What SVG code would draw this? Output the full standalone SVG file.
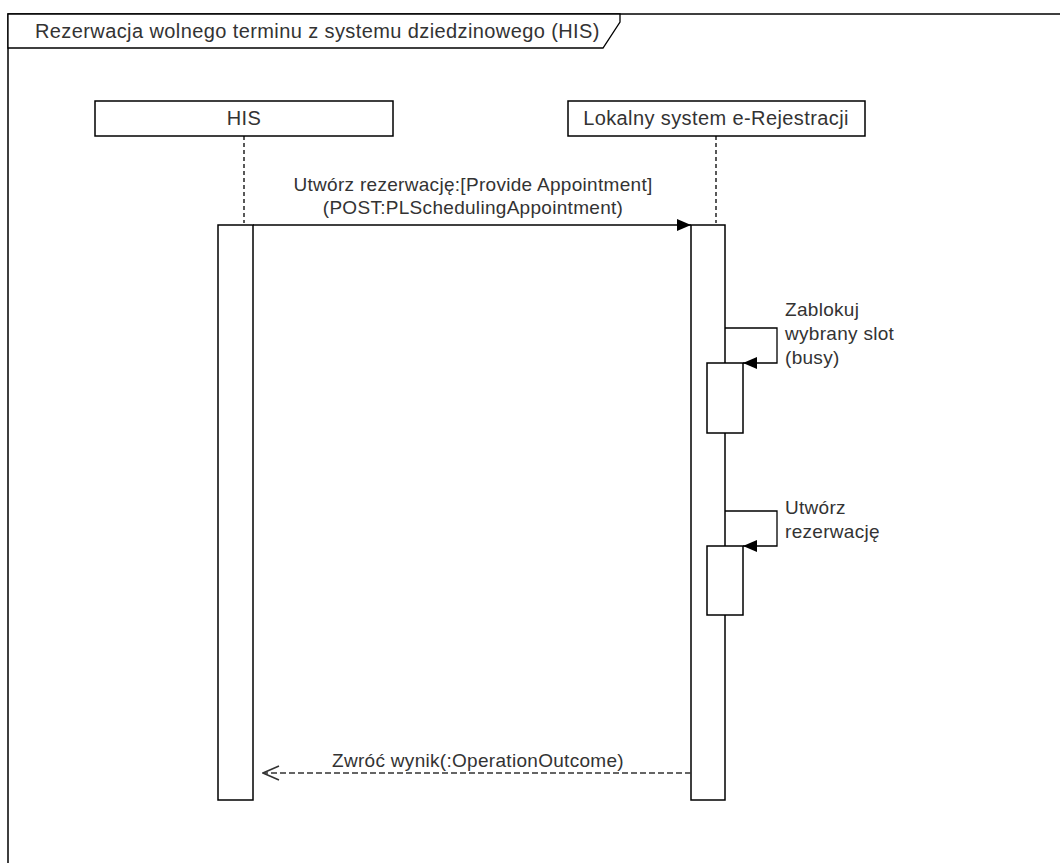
<svg xmlns="http://www.w3.org/2000/svg" width="1060" height="863" viewBox="0 0 1060 863">
<style>
text{font-family:"Liberation Sans",Arial,Helvetica,sans-serif;font-size:20px;letter-spacing:0.4px;fill:#333}
text.lbl{font-size:19px;letter-spacing:0.3px}
.box{fill:#fff;stroke:#000;stroke-width:1.5}
.life{stroke:#000;stroke-width:1.3;stroke-dasharray:4 3;fill:none}
.msg{stroke:#000;stroke-width:1.3;fill:none}
.ret{stroke:#333;stroke-width:1.3;stroke-dasharray:6 3;fill:none}
</style>
<defs>
<marker id="fill" markerWidth="14" markerHeight="12" refX="14" refY="6" orient="auto" markerUnits="userSpaceOnUse"><path d="M0,0 L14,6 L0,12 Z" fill="#000"/></marker>
<marker id="open" markerWidth="18" markerHeight="16" refX="17" refY="8" orient="auto" markerUnits="userSpaceOnUse"><path d="M1,1 L17,8 L1,15" fill="none" stroke="#333" stroke-width="1.5"/></marker>
</defs>
<rect width="1060" height="863" fill="#fff"/>
<g id="frame">
<path d="M8,863 L8,14 L1060,14" fill="none" stroke="#000" stroke-width="1.5"/>
<path d="M8,14 L620,14 L620,22 L603,48 L8,48 Z" fill="#fff" stroke="#000" stroke-width="1.3"/>
<text x="35" y="38">Rezerwacja wolnego terminu z systemu dziedzinowego (HIS)</text>
</g>
<g id="his">
<rect class="box" x="95" y="101" width="298" height="35"/>
<text x="244" y="125" text-anchor="middle">HIS</text>
<line class="life" x1="244" y1="136" x2="244" y2="223"/>
<rect class="box" x="218" y="225" width="35" height="575"/>
</g>
<g id="lokalny">
<rect class="box" x="568" y="101" width="297" height="35"/>
<text x="716" y="125" text-anchor="middle">Lokalny system e-Rejestracji</text>
<line class="life" x1="716" y1="136" x2="716" y2="223"/>
<rect class="box" x="691" y="225" width="34" height="575"/>
<rect class="box" x="707" y="363" width="36" height="70"/>
<rect class="box" x="707" y="546" width="36" height="69"/>
</g>
<g id="connectors">
<line class="msg" x1="253" y1="225" x2="691" y2="225" marker-end="url(#fill)"/>
<text class="lbl" x="473" y="191" text-anchor="middle">Utwórz rezerwację:[Provide Appointment]</text>
<text class="lbl" x="473" y="214" text-anchor="middle">(POST:PLSchedulingAppointment)</text>
<path class="msg" d="M725,328 L777,328 L777,363 L743,363" marker-end="url(#fill)"/>
<text class="lbl" x="785" y="316">Zablokuj</text>
<text class="lbl" x="785" y="340">wybrany slot</text>
<text class="lbl" x="785" y="364">(busy)</text>
<path class="msg" d="M725,511 L777,511 L777,546 L743,546" marker-end="url(#fill)"/>
<text class="lbl" x="785" y="514">Utwórz</text>
<text class="lbl" x="785" y="538">rezerwację</text>
<line class="ret" x1="691" y1="773" x2="263" y2="773" marker-end="url(#open)"/>
<text class="lbl" x="478" y="767" text-anchor="middle">Zwróć wynik(:OperationOutcome)</text>
</g>
</svg>
